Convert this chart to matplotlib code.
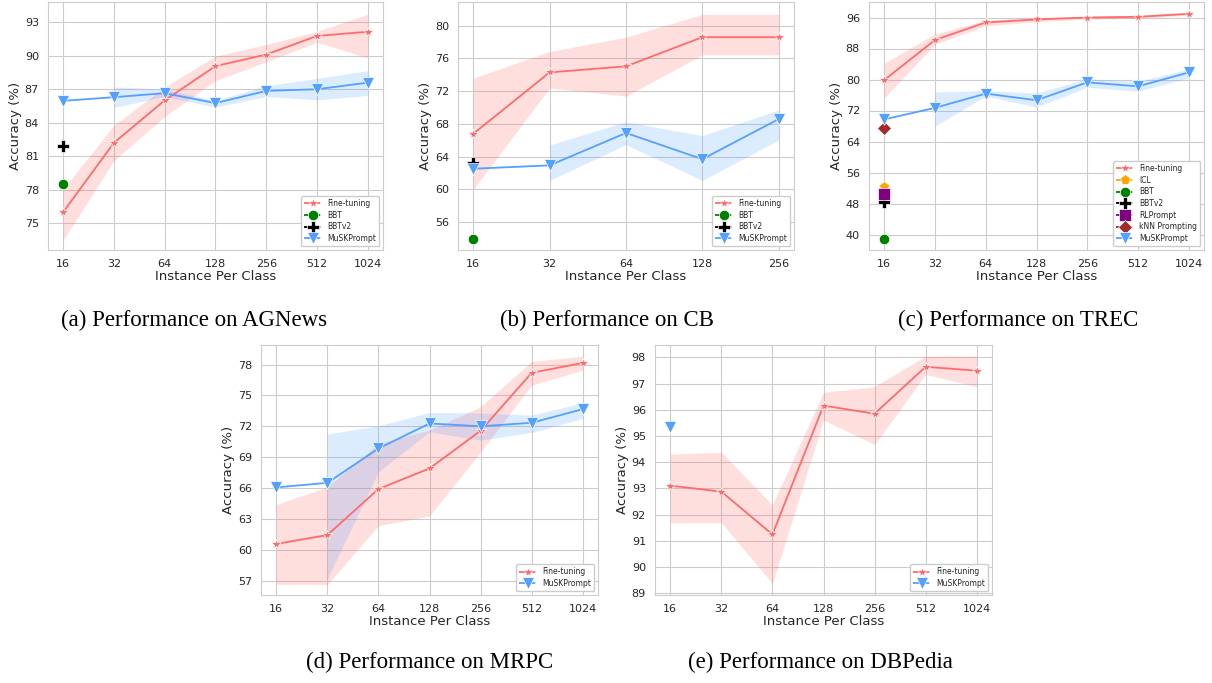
import numpy as np
import seaborn as sns
import matplotlib
matplotlib.use("Agg")
from matplotlib import pyplot as plt
from matplotlib.lines import Line2D

nan = np.nan

# x axis labels
shots7 = ["16", "32", "64", "128", "256", "512", "1024"]
shots5 = ["16", "32", "64", "128", "256"]

# AGNews
ag_ft = [76.0, 82.2, 86.0, 89.06, 90.1, 91.76, 92.14]
ag_ft_lo = [73.5, 80.6, 84.56, 87.76, 89.45, 91.2, 89.8]
ag_ft_hi = [78.05, 83.76, 87.2, 89.95, 91.0, 92.17, 93.7]
ag_mu = [85.95, 86.28, 86.64, 85.75, 86.84, 86.99, 87.58]
ag_mu_lo = [nan, 85.36, 86.34, 85.39, 86.34, 86.04, 86.43]
ag_mu_hi = [nan, 87.2, 87.0, 85.98, 87.3, 87.97, 88.65]
ag_bbt = 78.55
ag_bbtv2 = 81.9

# CB
cb_ft = [66.8, 74.3, 75.04, 78.6, 78.6]
cb_ft_lo = [60.0, 72.4, 71.4, 76.45, 76.45]
cb_ft_hi = [73.6, 76.85, 78.6, 81.4, 81.4]
cb_mu = [62.53, 62.94, 66.9, 63.7, 68.6]
cb_mu_lo = [nan, 61.1, 65.48, 61.1, 66.04]
cb_mu_hi = [nan, 65.44, 68.26, 66.57, 69.7]
cb_bbt = 53.98
cb_bbtv2 = 63.2

# TREC
tr_ft = [79.86, 90.2, 94.72, 95.49, 96.0, 96.17, 96.94]
tr_ft_lo = [75.25, 89.1, 93.87, 94.9, 95.6, 95.75, 96.6]
tr_ft_hi = [84.2, 91.73, 95.3, 96.0, 96.3, 96.6, 97.3]
tr_mu = [69.7, 72.69, 76.36, 74.65, 79.26, 78.24, 81.82]
tr_mu_lo = [nan, 68.0, 75.7, 72.86, 78.0, 76.96, 80.37]
tr_mu_hi = [nan, 76.8, 77.13, 76.5, 80.2, 79.5, 82.7]
tr_icl = 52.2
tr_bbt = 38.8
tr_bbtv2 = 48.35
tr_rl = 50.48
tr_knn = 67.56

# MRPC
mr_ft = [60.56, 61.43, 65.9, 67.9, 71.56, 77.19, 78.16]
mr_ft_lo = [56.64, 56.64, 62.34, 63.28, 69.5, 76.0, 77.45]
mr_ft_hi = [64.4, 66.1, 70.33, 71.62, 73.9, 78.3, 78.8]
mr_mu = [66.06, 66.5, 69.84, 72.27, 72.0, 72.34, 73.66]
mr_mu_lo = [nan, 57.2, 67.58, 71.46, 70.65, 71.4, 72.76]
mr_mu_hi = [nan, 71.24, 72.05, 73.34, 73.3, 73.08, 74.28]

# DBPedia
db_ft = [93.11, 92.88, 91.25, 96.16, 95.85, 97.64, 97.49]
db_ft_lo = [91.7, 91.7, 89.38, 95.61, 94.68, 97.35, 96.88]
db_ft_hi = [94.31, 94.38, 92.37, 96.67, 96.88, 98.05, 98.05]
db_mu = 95.36

sns.set_style("whitegrid")
plt.rcParams['font.family'] = ['DejaVu Sans']

RED = '#ff6b6b'
BLUE = '#54a0ff'

# single point baselines: name -> (marker, color, size)
single_style = {
    "ICL": ('p', 'orange', 8),
    "BBT": ('o', 'green', 7.5),
    "BBTv2": ('P', 'black', 8),
    "RLPrompt": ('s', 'purple', 8),
    "kNN Prompting": ('D', 'brown', 7),
}


def panel(ax, labels, ft, ft_lo, ft_hi, mu, mu_lo=None, mu_hi=None, singles=(), yticks=None, ylim=None):
    x = np.arange(len(labels))
    ax.fill_between(x, ft_lo, ft_hi, color=RED, alpha=0.22, linewidth=0)
    ax.plot(x, ft, color=RED, lw=1.3, marker='*', ms=7.5, mec='white', mew=0.5)
    handles = [Line2D([], [], color=RED, ls='--', lw=1.3, marker='*', ms=7.5, mec='white', mew=0.5)]
    names = ["Fine-tuning"]
    for name, val in singles:
        m, c, s = single_style[name]
        ax.plot([0], [val], ls='none', marker=m, color=c, ms=s, mec='white', mew=0.5)
        handles.append(Line2D([], [], color=c, ls='--', lw=1.3, marker=m, ms=s, mec='white', mew=0.5))
        names.append(name)
    if np.ndim(mu) == 0:
        ax.plot([0], [mu], ls='none', marker='v', color=BLUE, ms=8, mec='white', mew=0.5)
    else:
        ax.fill_between(x, mu_lo, mu_hi, color=BLUE, alpha=0.2, linewidth=0)
        ax.plot(x, mu, color=BLUE, lw=1.3, marker='v', ms=8, mec='white', mew=0.5)
    handles.append(Line2D([], [], color=BLUE, ls='--', lw=1.3, marker='v', ms=8, mec='white', mew=0.5))
    names.append("MuSKPrompt")
    ax.set_xticks(x)
    ax.set_xticklabels(labels)
    ax.set_yticks(yticks)
    ax.set_ylim(ylim)
    ax.tick_params(labelsize=8, pad=3)
    ax.set_xlabel("Instance Per Class", fontsize=9.5, labelpad=1)
    ax.set_ylabel("Accuracy (%)", fontsize=9.5, labelpad=2)
    ax.legend(handles, names, loc='lower right', fontsize=5.5, handlelength=2.2,
              borderpad=0.4, labelspacing=0.35, framealpha=1)


W, H = 1212, 683
fig = plt.figure(figsize=(W / 100, H / 100), dpi=100)


def axes_px(l, t, r, b):
    return fig.add_axes([l / W, 1 - b / H, (r - l) / W, (b - t) / H])


ax_a = axes_px(48, 2, 383, 250)
ax_b = axes_px(458, 2, 794, 250)
ax_c = axes_px(869, 2, 1204, 250)
ax_d = axes_px(261, 345, 598, 595)
ax_e = axes_px(655, 345, 992, 595)

panel(ax_a, shots7, ag_ft, ag_ft_lo, ag_ft_hi, ag_mu, ag_mu_lo, ag_mu_hi,
      singles=[("BBT", ag_bbt), ("BBTv2", ag_bbtv2)],
      yticks=[75, 78, 81, 84, 87, 90, 93], ylim=(72.6, 94.8))
panel(ax_b, shots5, cb_ft, cb_ft_lo, cb_ft_hi, cb_mu, cb_mu_lo, cb_mu_hi,
      singles=[("BBT", cb_bbt), ("BBTv2", cb_bbtv2)],
      yticks=[56, 60, 64, 68, 72, 76, 80], ylim=(52.6, 82.9))
panel(ax_c, shots7, tr_ft, tr_ft_lo, tr_ft_hi, tr_mu, tr_mu_lo, tr_mu_hi,
      singles=[("ICL", tr_icl), ("BBT", tr_bbt), ("BBTv2", tr_bbtv2),
               ("RLPrompt", tr_rl), ("kNN Prompting", tr_knn)],
      yticks=[40, 48, 56, 64, 72, 80, 88, 96], ylim=(36, 100))
panel(ax_d, shots7, mr_ft, mr_ft_lo, mr_ft_hi, mr_mu, mr_mu_lo, mr_mu_hi,
      yticks=[57, 60, 63, 66, 69, 72, 75, 78], ylim=(55.6, 79.9))
panel(ax_e, shots7, db_ft, db_ft_lo, db_ft_hi, db_mu,
      yticks=[89, 90, 91, 92, 93, 94, 95, 96, 97, 98], ylim=(88.94, 98.47))

# captions
cap = dict(fontsize=16.5, family=['Liberation Serif', 'DejaVu Serif'], ha='center', va='center', color='black')
fig.text(194 / W, 1 - 320 / H, "(a) Performance on AGNews", **cap)
fig.text(607 / W, 1 - 320 / H, "(b) Performance on CB", **cap)
fig.text(1018 / W, 1 - 320 / H, "(c) Performance on TREC", **cap)
fig.text(430 / W, 1 - 662 / H, "(d) Performance on MRPC", **cap)
fig.text(820 / W, 1 - 662 / H, "(e) Performance on DBPedia", **cap)

fig.savefig("out.png", dpi=100)
